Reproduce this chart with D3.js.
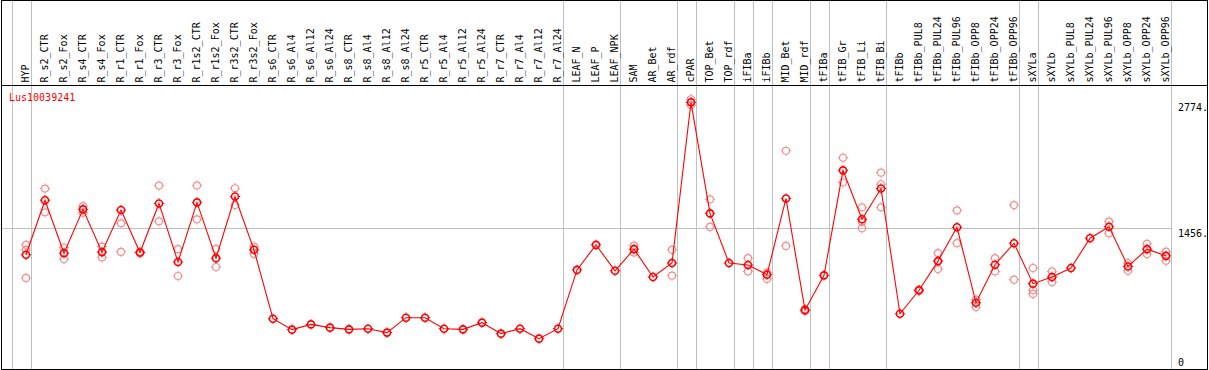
<!DOCTYPE html>
<html>
<head>
<meta charset="utf-8">
<script src="https://cdn.jsdelivr.net/npm/d3@7"></script>
<style>
  body { margin: 0; background: #fff; }
  svg { display: block; }
  text { font-family: "DejaVu Sans Mono", "Liberation Mono", monospace; font-size: 10px; }
</style>
</head>
<body>
<svg id="chart" width="1209" height="370"></svg>
<script>
const title = "Lus10039241";
const categories = ["HYP","R_s2_CTR","R_s2_Fox","R_s4_CTR","R_s4_Fox","R_r1_CTR","R_r1_Fox","R_r3_CTR","R_r3_Fox",
  "R_r1s2_CTR","R_r1s2_Fox","R_r3s2_CTR","R_r3s2_Fox","R_s6_CTR","R_s6_Al4","R_s6_Al12","R_s6_Al24",
  "R_s8_CTR","R_s8_Al4","R_s8_Al12","R_s8_Al24","R_r5_CTR","R_r5_Al4","R_r5_Al12","R_r5_Al24",
  "R_r7_CTR","R_r7_Al4","R_r7_Al12","R_r7_Al24","LEAF_N","LEAF_P","LEAF_NPK","SAM","AR_Bet","AR_rdf",
  "cPAR","TOP_Bet","TOP_rdf","iFIBa","iFIBb","MID_Bet","MID_rdf","tFIBa","tFIB_Gr","tFIB_Li","tFIB_Bi",
  "tFIBb","tFIBb_PUL8","tFIBb_PUL24","tFIBb_PUL96","tFIBb_OPP8","tFIBb_OPP24","tFIBb_OPP96",
  "sXYLa","sXYLb","sXYLb_PUL8","sXYLb_PUL24","sXYLb_PUL96","sXYLb_OPP8","sXYLb_OPP24","sXYLb_OPP96"];

const means = [1179,1750,1196,1654,1207,1647,1203,1716,1103,1727,1144,1789,1231,510,396,451,417,
  399,406,365,521,521,406,399,469,354,406,302,406,1021,1283,1012,1238,947,1093,
  2774,1612,1093,1072,971,1768,600,964,2062,1550,1872,
  562,808,1113,1467,677,1075,1300,
  877,947,1041,1352,1473,1057,1238,1168];

const rep1 = [1283,1872,1255,1688,1265,1210,1210,1903,1238,1903,1241,1875,1265,null,null,null,null,
  null,null,null,null,null,null,null,null,null,null,null,null,null,null,null,1275,null,1231,
  2806,1758,null,1144,995,2267,610,null,2194,1675,2038,
  null,815,1196,1643,711,1144,1699,
  1041,1005,null,null,1525,1093,1293,1213];
const rep2 = [1231,1623,1134,1618,1151,1508,1196,1529,957,1550,1051,1699,1189,null,null,null,null,
  null,null,null,null,null,null,null,null,null,null,null,null,null,null,null,1203,null,960,
  2771,1470,null,1005,926,1272,590,null,1935,1525,1917,
  null,800,1030,1300,631,1005,919,
  808,895,null,null,1404,1012,1186,1116];
const rep3 = [937,null,null,null,null,null,null,null,null,null,null,null,null,null,null,null,null,
  null,null,null,null,null,null,null,null,null,null,null,null,null,null,null,null,null,null,
  2745,null,null,null,null,null,null,null,null,1456,1675,
  null,null,null,null,null,null,null,
  770,null,null,null,null,null,null,null];

const separatorsAfter = ["HYP","R_r7_Al24","LEAF_NPK","AR_rdf","cPAR","TOP_rdf","iFIBa","iFIBb",
  "MID_rdf","tFIBa","tFIB_Bi","tFIBb_OPP96","sXYLa","sXYLb_OPP96"];
const yTicks = [2774, 1456, 0];
const yTickLabels = ["2774.", "1456.", "0"];
const gridValue = 1456;

const W = 1209, H = 370;
const svg = d3.select("#chart");
const x = d3.scalePoint().domain(categories).range([26, 1166]);
const y = d3.scaleLinear().domain([0, 2774]).range([367.5, 102.3]);
const step = x.step();

const gray = "#c0c0c0";
const sepX = [x(categories[0]) - step + 4.5].concat(separatorsAfter.map(c => x(c) + 4.5));
svg.selectAll("line.sep").data(sepX).enter().append("line")
  .attr("x1", d => Math.round(d) + 0.5).attr("x2", d => Math.round(d) + 0.5)
  .attr("y1", 0).attr("y2", H)
  .attr("stroke", gray).attr("stroke-width", 1);

const gx1 = 1, gx2 = x(categories[categories.length - 1]) + 4.5;
svg.append("line")
  .attr("x1", gx1).attr("x2", Math.round(gx2) + 1)
  .attr("y1", Math.round(y(gridValue)) + 0.5).attr("y2", Math.round(y(gridValue)) + 0.5)
  .attr("stroke", gray);

svg.append("rect").attr("x", 1.5).attr("y", 0.5).attr("width", 1206).attr("height", 369)
  .attr("fill", "none").attr("stroke", "#000");
svg.append("line").attr("x1", 1).attr("x2", 1208).attr("y1", 85.5).attr("y2", 85.5).attr("stroke", "#000");

svg.selectAll("text.cat").data(categories).enter().append("text")
  .attr("transform", d => `translate(${x(d) + 3},82.5) rotate(-90)`)
  .attr("text-anchor", "start")
  .attr("fill", "#000")
  .text(d => d);

svg.append("text").attr("x", 9).attr("y", 101).attr("fill", "#ff0000").text(title);

svg.selectAll("text.ylab").data(yTicks).enter().append("text")
  .attr("x", 1178)
  .attr("y", d => Math.min(y(d) + 8.5, 365.5))
  .attr("fill", "#000")
  .text((d, i) => yTickLabels[i]);

function marker(g, color, sw) {
  g.append("circle").attr("r", 3.5).attr("fill", "none").attr("stroke", color).attr("stroke-width", sw);
  g.append("path").attr("d", "M0,-5.2V-4M0,4V5.2M-5.2,0H-4M4,0H5.2")
    .attr("stroke", color).attr("stroke-width", 1);
}

const pink = "#f09090";
[rep1, rep2, rep3].forEach(arr => {
  const pts = categories.map((c, i) => ({c, v: arr[i]})).filter(d => d.v != null);
  svg.selectAll(null).data(pts).enter().append("g")
    .attr("transform", d => `translate(${x(d.c)},${y(d.v)})`)
    .each(function() { marker(d3.select(this), pink, 1.2); });
});

const line = d3.line().x((d, i) => x(categories[i])).y(d => y(d));
svg.append("path").datum(means).attr("d", line)
  .attr("fill", "none").attr("stroke", "#ff0000").attr("stroke-width", 1.1);

svg.selectAll("g.mean").data(means).enter().append("g")
  .attr("transform", (d, i) => `translate(${x(categories[i])},${y(d)})`)
  .each(function() { marker(d3.select(this), "#ff0000", 1.6); });
</script>
</body>
</html>
